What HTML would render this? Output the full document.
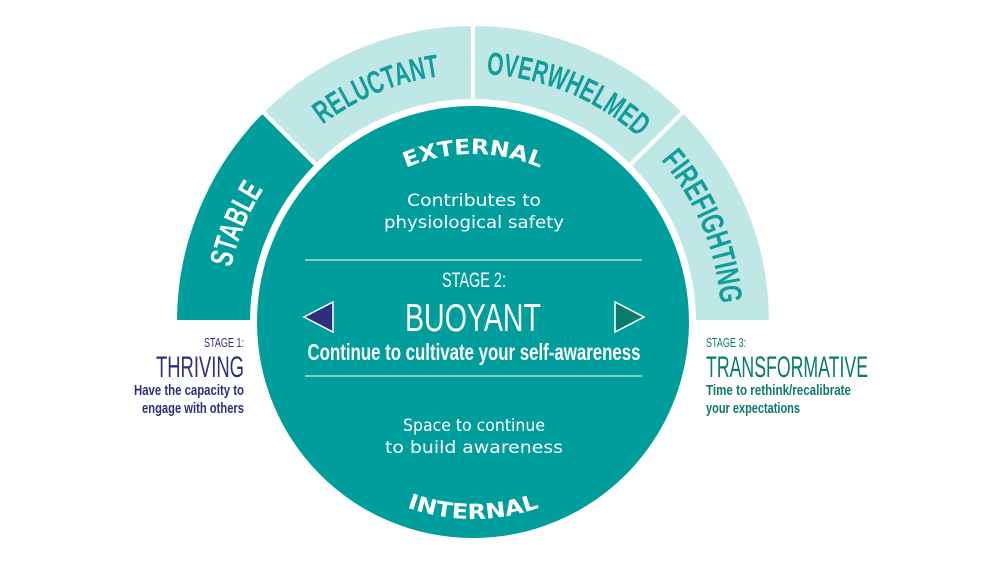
<!DOCTYPE html>
<html><head><meta charset="utf-8"><style>
html,body{margin:0;padding:0;background:#fff;width:1000px;height:563px;overflow:hidden}
svg{display:block}
.c{font-family:"Liberation Sans Narrow","Liberation Sans",sans-serif;font-weight:bold}
.n{font-family:"Liberation Sans Narrow","Liberation Sans",sans-serif}
.m{font-family:"DejaVu Sans","Liberation Sans",sans-serif}
</style></head><body>
<svg width="1000" height="563" viewBox="0 0 1000 563" xmlns="http://www.w3.org/2000/svg">
<defs>
<path id="ring" d="M225,322 A248,248 0 0 1 721,322"/>
<path id="ext" d="M305,322 A168,168 0 0 1 641,322"/>
<path id="int" d="M276,322 A197,197 0 0 0 670,322"/>
</defs>
<g stroke="#fff" stroke-width="4">
<path d="M175,322 A298,298 0 0 1 262.3,111.3 L316.7,165.7 A221,221 0 0 0 252,322 Z" fill="#009d9d"/>
<path d="M262.3,111.3 A298,298 0 0 1 473,24 L473,101 A221,221 0 0 0 316.7,165.7 Z" fill="#bfe7e6"/>
<path d="M473,24 A298,298 0 0 1 683.7,111.3 L629.3,165.7 A221,221 0 0 0 473,101 Z" fill="#bfe7e6"/>
<path d="M683.7,111.3 A298,298 0 0 1 771,322 L694,322 A221,221 0 0 0 629.3,165.7 Z" fill="#bfe7e6"/>
</g>
<circle cx="473" cy="322" r="216" fill="#009d9d"/>
<g class="c" font-size="32" text-anchor="middle">
<text fill="#fff"><textPath href="#ring" startOffset="12.5%" textLength="85" lengthAdjust="spacingAndGlyphs">STABLE</textPath></text>
<text fill="#129c9b"><textPath href="#ring" startOffset="37.5%" textLength="128" lengthAdjust="spacingAndGlyphs">RELUCTANT</textPath></text>
<text fill="#129c9b"><textPath href="#ring" startOffset="62.5%" textLength="168" lengthAdjust="spacingAndGlyphs">OVERWHELMED</textPath></text>
<text fill="#129c9b"><textPath href="#ring" startOffset="87.5%" textLength="158" lengthAdjust="spacingAndGlyphs">FIREFIGHTING</textPath></text>
</g>
<g class="m" font-weight="bold" font-size="21" fill="#fff" text-anchor="middle">
<text><textPath href="#ext" startOffset="50%" textLength="138" lengthAdjust="spacingAndGlyphs">EXTERNAL</textPath></text>
<text><textPath href="#int" startOffset="50%" textLength="135" lengthAdjust="spacingAndGlyphs">INTERNAL</textPath></text>
</g>
<g class="m" font-size="17" fill="#fff" text-anchor="middle">
<text x="474" y="206" textLength="134" lengthAdjust="spacingAndGlyphs">Contributes to</text>
<text x="474" y="228" textLength="180" lengthAdjust="spacingAndGlyphs">physiological safety</text>
<text x="474" y="431" textLength="142" lengthAdjust="spacingAndGlyphs">Space to continue</text>
<text x="474" y="453" textLength="178" lengthAdjust="spacingAndGlyphs">to build awareness</text>
</g>
<line x1="305" y1="260" x2="642" y2="260" stroke="#a6e0df" stroke-width="1.5"/>
<line x1="305" y1="376" x2="642" y2="376" stroke="#a6e0df" stroke-width="1.5"/>
<g class="n" fill="#fff" text-anchor="middle">
<text x="474" y="287" font-size="21" textLength="64" lengthAdjust="spacingAndGlyphs">STAGE 2:</text>
<text x="473" y="331" font-size="39" textLength="136" lengthAdjust="spacingAndGlyphs">BUOYANT</text>
<text class="c" x="474" y="360" font-size="23" textLength="333" lengthAdjust="spacingAndGlyphs">Continue to cultivate your self-awareness</text>
</g>
<polygon points="304,317 333,302 333,332" fill="#2d2f7c" stroke="#fff" stroke-width="1.5"/>
<polygon points="615,302 615,332 644,317" fill="#0b7a6b" stroke="#fff" stroke-width="1.5"/>
<g class="n" fill="#2d2f7c" text-anchor="end">
<text x="244" y="347" font-size="13" textLength="40" lengthAdjust="spacingAndGlyphs">STAGE 1:</text>
<text x="244" y="377" font-size="30" textLength="88" lengthAdjust="spacingAndGlyphs">THRIVING</text>
<text class="c" x="244" y="395" font-size="15" textLength="110" lengthAdjust="spacingAndGlyphs">Have the capacity to</text>
<text class="c" x="244" y="413" font-size="15" textLength="102" lengthAdjust="spacingAndGlyphs">engage with others</text>
</g>
<g class="n" fill="#0b7a6b">
<text x="706" y="347" font-size="13" textLength="40" lengthAdjust="spacingAndGlyphs">STAGE 3:</text>
<text x="706" y="377" font-size="30" textLength="162" lengthAdjust="spacingAndGlyphs">TRANSFORMATIVE</text>
<text class="c" x="706" y="395" font-size="15" textLength="145" lengthAdjust="spacingAndGlyphs">Time to rethink/recalibrate</text>
<text class="c" x="706" y="413" font-size="15" textLength="94" lengthAdjust="spacingAndGlyphs">your expectations</text>
</g>
</svg>
</body></html>
